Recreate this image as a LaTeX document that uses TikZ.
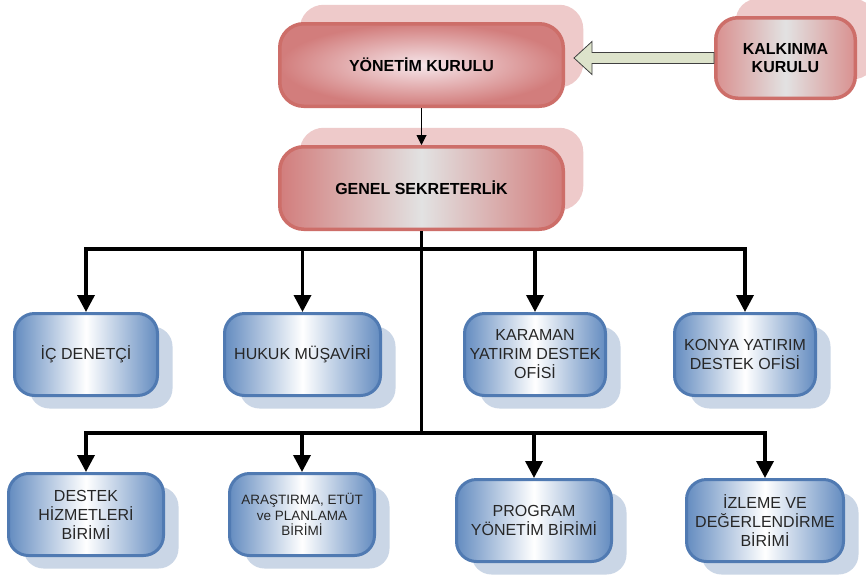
\documentclass[tikz,border=0pt]{standalone}
\usepackage{fontspec}
\setmainfont{Liberation Sans}
\usetikzlibrary{arrows.meta,shadows,calc}

\definecolor{redline}{RGB}{205,110,105}
\definecolor{redfill}{RGB}{210,125,124}
\definecolor{redlight}{RGB}{246,230,234}
\definecolor{redshadow}{RGB}{238,202,202}
\definecolor{greymid}{RGB}{226,226,226}
\definecolor{blueline}{RGB}{80,122,178}
\definecolor{bluefill}{RGB}{100,140,192}
\definecolor{blueshadow}{RGB}{202,214,230}
\definecolor{arrowfill}{RGB}{221,227,203}

\tikzset{
  redbox/.style={rounded corners=24pt, draw=redline, line width=3.5pt,
    minimum width=283.5pt, minimum height=82.5pt, align=center,
    font=\fontsize{16}{18}\selectfont\bfseries,
    general shadow={fill=redshadow, draw=none, shadow xshift=20pt, shadow yshift=19pt}},
  bluebox/.style={rounded corners=20pt, draw=blueline, line width=3pt,
    minimum height=82pt, align=center, text=black!85,
    left color=bluefill, right color=bluefill, middle color=white,
    font=\fontsize{16}{19}\selectfont,
    general shadow={fill=blueshadow, draw=none, shadow xshift=15pt, shadow yshift=-13pt}},
  busarrow/.style={line width=3.5pt, -{Triangle[width=17pt,length=17pt]}},
  hollowarrow/.style={fill=arrowfill, draw=black!75, line width=0.8pt, line join=miter}
}

\begin{document}
\begin{tikzpicture}[x=1pt,y=-1pt]
\clip (0,0) rectangle (866,584);
\fill[white] (0,0) rectangle (866,584);

% top of the chart
\node[redbox, inner color=redlight, outer color=redfill] (yon) at (421.5,65) {YÖNETİM KURULU};
\node[redbox, left color=redfill, right color=redfill, middle color=greymid] (gen) at (421.5,188) {GENEL SEKRETERLİK};
\node[redbox, minimum width=139.5pt, minimum height=80.5pt, rounded corners=22pt,
  left color=redfill!85!white, right color=redfill!85!white, middle color=greymid] (kalk) at (785.5,58) {KALKINMA\\KURULU};

\coordinate (tip) at ($(yon.east |- kalk.west)+(9,0)$);
\draw[hollowarrow] (tip) -- ++(18,-16.5) -- ++(0,11) -- ([yshift=5.5pt]kalk.west)
  -- ([yshift=-5.5pt]kalk.west) -- ([shift={(18pt,-5.5pt)}]tip) -- ++(0,11) -- cycle;
\draw[line width=1pt, -{Triangle[width=10pt,length=10pt]}] (yon) -- (gen);

% first row
\node[bluebox, minimum width=143pt] (ic) at (86,354.5) {İÇ DENETÇİ};
\node[bluebox, minimum width=156pt] (hukuk) at (302.5,354.5) {HUKUK MÜŞAVİRİ};
\node[bluebox, minimum width=141pt] (karaman) at (535,354.5) {KARAMAN\\YATIRIM DESTEK\\OFİSİ};
\node[bluebox, minimum width=141pt] (konya) at (745,354.5) {KONYA YATIRIM\\DESTEK OFİSİ};

% second row
\node[bluebox, minimum width=155pt] (destek) at (86,514.5) {DESTEK\\HİZMETLERİ\\BİRİMİ};
\node[bluebox, minimum width=145pt, font=\fontsize{13.5}{15.5}\selectfont] (arastirma) at (302,514.5) {ARAŞTIRMA, ETÜT\\ve PLANLAMA\\BİRİMİ};
\node[bluebox, minimum width=155pt] (program) at (534,520.5) {PROGRAM\\YÖNETİM BİRİMİ};
\node[bluebox, minimum width=157pt] (izleme) at (765,520.5) {İZLEME VE\\DEĞERLENDİRME\\BİRİMİ};

% lines
\coordinate (bus1) at (421.5,249);
\coordinate (bus2) at (421.5,433);
\draw[line width=3.5pt] (gen.south) -- (bus2);
\draw[busarrow] (bus1) -| (ic.north);
\draw[busarrow] (bus1) -| (hukuk.north);
\draw[busarrow] (bus1) -| (karaman.north);
\draw[busarrow] (bus1) -| (konya.north);
\draw[busarrow] (bus2) -| (destek.north);
\draw[busarrow] (bus2) -| (arastirma.north);
\draw[busarrow] (bus2) -| (program.north);
\draw[busarrow] (bus2) -| (izleme.north);
\end{tikzpicture}
\end{document}
